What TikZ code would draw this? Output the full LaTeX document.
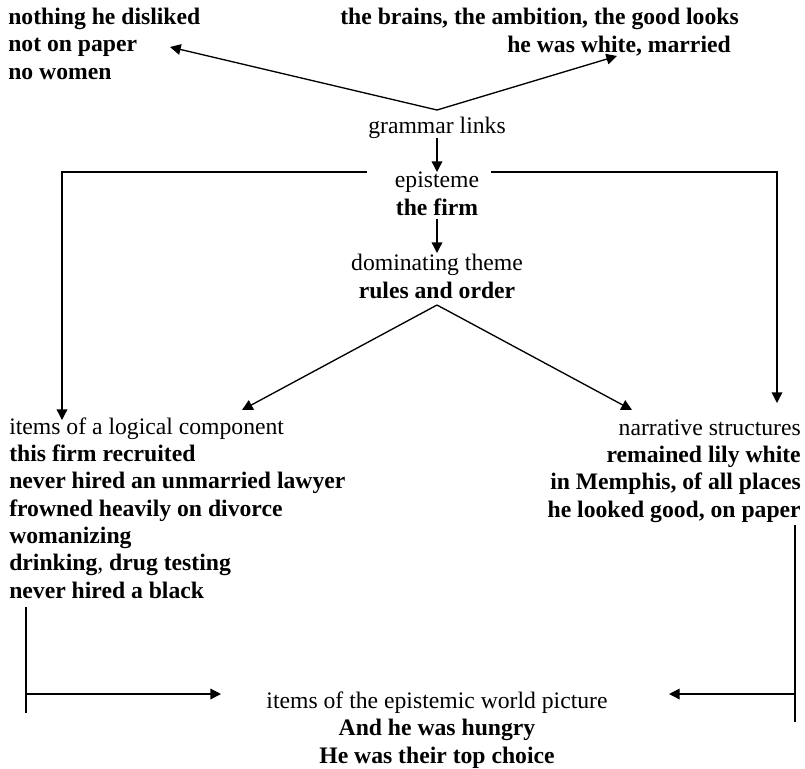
\documentclass[tikz,border=0pt]{standalone}
\usepackage{fontspec}
\setmainfont{Liberation Serif}
\usetikzlibrary{arrows.meta}
\begin{document}
\begin{tikzpicture}[x=0.75pt,y=-0.75pt,
  txt/.style={inner sep=0pt,font=\fontsize{17.75}{20.5}\selectfont},
  conn/.style={line width=1pt},
  arr/.style={conn,-{Triangle[length=8pt,width=8pt]}}]
\useasboundingbox (0,0) rectangle (805,768);
% texts (anchored at the baseline of their last line)
\node[txt,anchor=base west,align=left] (tl) at (8,79) {\textbf{nothing he disliked}\\\textbf{not on paper}\\\textbf{no women}};
\node[txt,anchor=base east,align=right] (tr) at (739,52) {\textbf{the brains, the ambition, the good looks}\\\textbf{he was white, married}\hspace*{6pt}};
\node[txt,anchor=base] (gl) at (437,133) {grammar links};
\node[txt,anchor=base,align=center] (ep) at (437,215) {episteme\\\textbf{the firm}};
\node[txt,anchor=base,align=center] (dt) at (437,298) {dominating theme\\\textbf{rules and order}};
\node[txt,anchor=base west,align=left] (lc) at (9,598) {items of a logical component\\\textbf{this firm recruited}\\\textbf{never hired an unmarried lawyer}\\\textbf{frowned heavily on divorce}\\\textbf{womanizing}\\\textbf{drinking}, \textbf{drug testing}\\\textbf{never hired a black}};
\node[txt,anchor=base east,align=right] (ns) at (801,517) {narrative structures\\\textbf{remained lily white}\\\textbf{in Memphis, of all places}\\\textbf{he looked good, on paper}};
\node[txt,anchor=base,align=center] (ew) at (437,763) {items of the epistemic world picture\\\textbf{And he was hungry}\\\textbf{He was their top choice}};
% coordinates
\coordinate (gtop) at (437,110);
\coordinate (tlend) at (170,47);
\coordinate (trend) at (617,56);
\coordinate (glbot) at (437,138);
\coordinate (eptop) at (437,172);
\coordinate (epbot) at (437,219);
\coordinate (dttop) at (437,253);
\coordinate (dtbot) at (437,305);
\coordinate (lcend) at (242,410);
\coordinate (nsend) at (632,410);
\coordinate (epl) at (367,172);
\coordinate (epr) at (491,172);
\coordinate (lcv) at (62,420);
\coordinate (nsv) at (777,403);
\coordinate (lbt) at (26,607);
\coordinate (lbb) at (26,713);
\coordinate (lbm) at (26,694);
\coordinate (lba) at (221,694);
\coordinate (rbt) at (795,525);
\coordinate (rbb) at (795,722);
\coordinate (rbm) at (795,694);
\coordinate (rba) at (669,694);
% connectors
\draw[arr] (gtop) -- (tlend);
\draw[arr] (gtop) -- (trend);
\draw[arr] (glbot) -- (eptop);
\draw[arr] (epbot) -- (dttop);
\draw[arr] (dtbot) -- (lcend);
\draw[arr] (dtbot) -- (nsend);
\draw[arr] (epl) -| (lcv);
\draw[arr] (epr) -| (nsv);
\draw[conn] (lbt) -- (lbb);
\draw[arr] (lbm) -- (lba);
\draw[conn] (rbt) -- (rbb);
\draw[arr] (rbm) -- (rba);
\end{tikzpicture}
\end{document}
